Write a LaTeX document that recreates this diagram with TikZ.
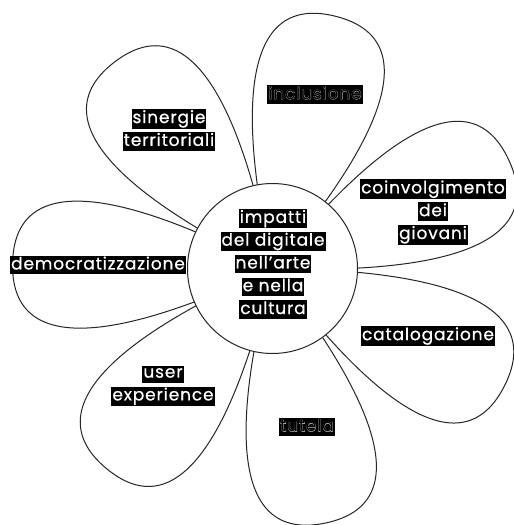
\documentclass[tikz,border=0pt]{standalone}
\usepackage{fontspec}
\setmainfont{Poppins}[LetterSpace=5, FakeBold=0.6]
\newfontfamily\halofont{Poppins}[LetterSpace=5, FakeBold=3]
\newfontfamily\plainfont{Poppins}[LetterSpace=5]
\setlength{\fboxsep}{1pt}
\newcommand\hlb[1]{\colorbox{black}{\rule[-4pt]{0pt}{14.5pt}\textcolor{white}{#1}}}
\newcommand\hlo[1]{\colorbox{black}{\rule[-3.5pt]{0pt}{13pt}\rlap{\halofont\color{black!35}#1}\textcolor{black}{\plainfont #1}}}
\tikzset{
  petal/.style={draw=black!85, line width=1pt, fill=white},
  hub/.style={circle, draw=black!85, line width=1pt, fill=white, minimum size=170pt, inner sep=0pt},
  lbl/.style={align=center, inner sep=0pt, font=\fontsize{17}{22.8}\selectfont},
}
\begin{document}
\begin{tikzpicture}[x=1pt,y=1pt]
\useasboundingbox[fill=white] (0,0) rectangle (514,-525);
\coordinate (c) at (272.5,-268.5);
\foreach \a in {76,24.57,-26.86,-78.29,-129.71,-181.14,-232.57}{
  \begin{scope}[shift={(c)}, rotate=\a]
    \draw[petal] (0,0) .. controls (110,55) and (260,110) .. (260,0)
                       .. controls (260,-110) and (110,-55) .. (0,0);
  \end{scope}
}
\node[hub] (hub) at (c) {};
\node[lbl] (center) at (273,-264) {\hlb{impatti}\\\hlb{del digitale}\\\hlb{nell'arte}\\\hlb{e nella}\\\hlb{cultura}};
\node[lbl] (incl) at (315,-94.5) {\hlo{inclusione}};
\node[lbl] (siner) at (169,-130) {\hlb{sinergie}\\\hlb{territoriali}};
\node[lbl] (coinv) at (433,-212) {\hlb{coinvolgimento}\\\hlb{dei}\\\hlb{giovani}};
\node[lbl] (demo) at (98,-265) {\hlb{democratizzazione}};
\node[lbl] (catal) at (428,-336) {\hlb{catalogazione}};
\node[lbl] (user) at (163,-386) {\hlb{user}\\\hlb{experience}};
\node[lbl] (tutela) at (307,-427) {\hlo{tutela}};
\end{tikzpicture}
\end{document}
